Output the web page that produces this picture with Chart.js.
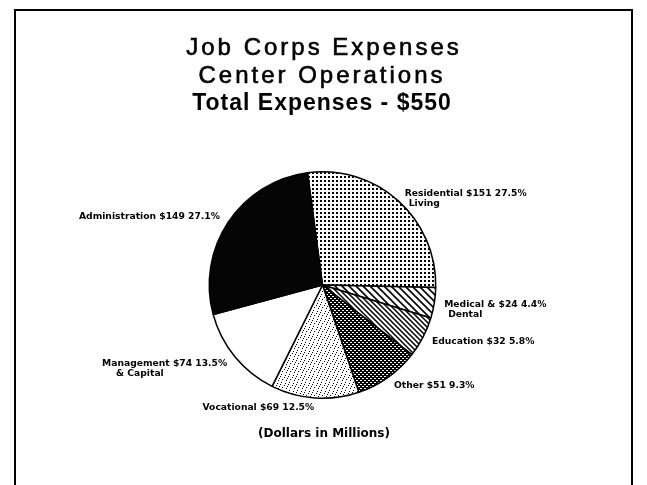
<!DOCTYPE html>
<html>
<head>
  <meta charset="UTF-8">
  <title>Job Corps Expenses</title>
  <script src="https://cdn.jsdelivr.net/npm/chart.js"></script>
  <style>
    body { margin: 0; background: #fff; }
    canvas { display: block; }
  </style>
</head>
<body>
  <canvas id="pieChart" width="647" height="485"></canvas>

  <script>
    // data (dollars in millions)
    const categories = ['Residential Living', 'Medical & Dental', 'Education', 'Other',
                        'Vocational', 'Management & Capital', 'Administration'];
    const amounts = [151, 24, 32, 51, 69, 74, 149];
    const labelFirst = ['Residential', 'Medical &', 'Education', 'Other',
                        'Vocational', 'Management', 'Administration'];
    const labelSecond = ['Living', 'Dental', '', '', '', '& Capital', ''];
    const titleLines = ['Job Corps Expenses', 'Center Operations'];
    const subtitle = 'Total Expenses - $550';
    const footer = '(Dollars in Millions)';

    const total = amounts.reduce((a, b) => a + b, 0);

    function makePattern(size, draw) {
      const c = document.createElement('canvas');
      c.width = size;
      c.height = size;
      const g = c.getContext('2d');
      g.fillStyle = '#fff';
      g.fillRect(0, 0, size, size);
      draw(g, size);
      return g.createPattern(c, 'repeat');
    }

    function hatch(g, s, w) {
      g.strokeStyle = '#000';
      g.lineWidth = w;
      g.beginPath();
      g.moveTo(-1, -1); g.lineTo(s + 1, s + 1);
      g.moveTo(-1, s - 1); g.lineTo(1, s + 1);
      g.moveTo(s - 1, -1); g.lineTo(s + 1, 1);
      g.stroke();
    }

    const fills = [
      // residential: dot grid
      makePattern(4, (g) => { g.fillStyle = '#000'; g.fillRect(0, 0, 2, 2); }),
      // medical: wide hatch
      makePattern(7, (g, s) => hatch(g, s, 1.6)),
      // education: tight hatch
      makePattern(5, (g, s) => hatch(g, s, 1.5)),
      // other: dark check
      makePattern(4, (g) => {
        g.fillStyle = '#000';
        g.fillRect(0, 0, 4, 4);
        g.fillStyle = '#fff';
        g.fillRect(0, 0, 2, 1);
        g.fillRect(2, 2, 2, 1);
      }),
      // vocational: light stipple
      makePattern(8, (g) => {
        g.fillStyle = '#000';
        [[0, 0], [4, 1], [2, 3], [6, 4], [1, 6], [5, 7], [7, 2]].forEach(([x, y]) => g.fillRect(x, y, 1, 1));
      }),
      '#ffffff',
      '#050505'
    ];

    const decorPlugin = {
      id: 'decor',
      beforeDraw(chart) {
        const ctx = chart.ctx;
        ctx.save();
        ctx.fillStyle = '#fff';
        ctx.fillRect(0, 0, chart.width, chart.height);
        // frame
        ctx.strokeStyle = '#000';
        ctx.lineWidth = 2;
        ctx.strokeRect(15, 10, 617, 490);
        // titles
        ctx.fillStyle = '#000';
        ctx.strokeStyle = '#000';
        ctx.lineWidth = 0.6;
        ctx.textAlign = 'center';
        ctx.textBaseline = 'alphabetic';
        ctx.font = '24px "Liberation Sans", Arial, sans-serif';
        ctx.letterSpacing = '3px';
        titleLines.forEach((t, i) => {
          ctx.fillText(t, 324 - i * 2, 55 + i * 28);
          ctx.strokeText(t, 324 - i * 2, 55 + i * 28);
        });
        ctx.font = 'bold 23px "Liberation Sans", Arial, sans-serif';
        ctx.letterSpacing = '1px';
        ctx.fillText(subtitle, 322, 110);
        ctx.letterSpacing = '0px';
        ctx.font = 'bold 12px "DejaVu Sans", sans-serif';
        ctx.textBaseline = 'middle';
        ctx.fillText(footer, 324, 434);
        ctx.restore();
      },
      afterDatasetsDraw(chart) {
        const ctx = chart.ctx;
        const arcs = chart.getDatasetMeta(0).data;
        ctx.save();
        ctx.fillStyle = '#000';
        ctx.font = 'bold 9.2px "DejaVu Sans", sans-serif';
        ctx.textBaseline = 'middle';
        arcs.forEach((arc, i) => {
          const p = arc.getProps(['x', 'y', 'startAngle', 'endAngle', 'outerRadius'], true);
          const mid = (p.startAngle + p.endAngle) / 2;
          const r = p.outerRadius + 10;
          const px = p.x + Math.cos(mid) * r;
          const py = p.y + Math.sin(mid) * r;
          const pct = (amounts[i] / total * 100).toFixed(1) + '%';
          const line1 = labelFirst[i] + ' $' + amounts[i] + ' ' + pct;
          const right = Math.cos(mid) >= 0;
          ctx.textAlign = right ? 'left' : 'right';
          ctx.fillText(line1, px, py);
          if (labelSecond[i]) {
            const left = right ? px : px - ctx.measureText(line1).width;
            ctx.textAlign = 'left';
            ctx.fillText(labelSecond[i], left + (right ? 4 : 14), py + 10.5);
          }
        });
        ctx.restore();
      }
    };

    new Chart(document.getElementById('pieChart'), {
      type: 'pie',
      data: {
        labels: categories,
        datasets: [{
          data: amounts,
          backgroundColor: fills,
          borderColor: '#000',
          borderWidth: 1.5
        }]
      },
      options: {
        responsive: false,
        devicePixelRatio: 1,
        animation: false,
        rotation: -7.6,
        layout: { padding: { top: 171, bottom: 86, left: 0, right: 2 } },
        plugins: {
          legend: { display: false },
          tooltip: { enabled: false },
          title: { display: false }
        }
      },
      plugins: [decorPlugin]
    });
  </script>
</body>
</html>
